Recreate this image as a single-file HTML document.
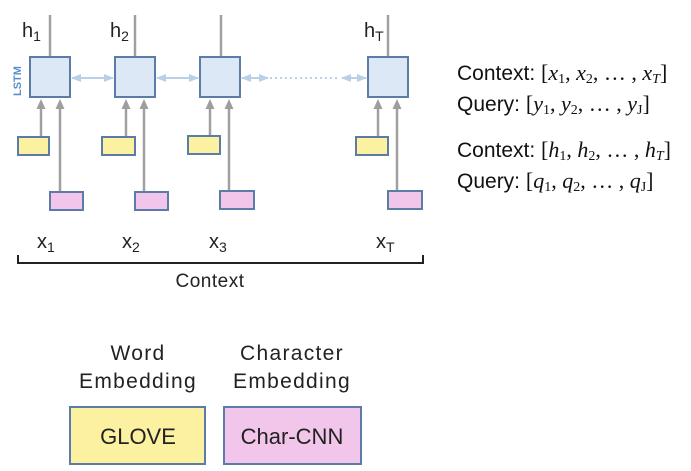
<!DOCTYPE html>
<html><head><style>body{margin:0;background:#fff}svg{display:block}</style></head><body>
<svg width="691" height="471" viewBox="0 0 691 471" xmlns="http://www.w3.org/2000/svg" font-family="Liberation Sans, sans-serif">
<defs>
<marker id="ga" markerUnits="userSpaceOnUse" markerWidth="10" markerHeight="10" refX="5" refY="5" orient="auto"><path d="M0,0.5 L10,5 L0,9.5 z" fill="#9e9e9e"/></marker>
<marker id="ba" markerUnits="userSpaceOnUse" markerWidth="10" markerHeight="10" refX="9" refY="5" orient="auto-start-reverse"><path d="M0,1 L10,5 L0,9 z" fill="#b8d0e8"/></marker>
</defs>
<g stroke="#a0a0a0" stroke-width="2.5">
<line x1="50" y1="15" x2="50" y2="57"/><line x1="135" y1="15" x2="135" y2="57"/><line x1="221" y1="15" x2="221" y2="57"/><line x1="388" y1="15" x2="388" y2="57"/>
<line x1="41" y1="137" x2="41" y2="104" marker-end="url(#ga)"/><line x1="60" y1="192" x2="60" y2="104" marker-end="url(#ga)"/>
<line x1="126" y1="137" x2="126" y2="104" marker-end="url(#ga)"/><line x1="144" y1="192" x2="144" y2="104" marker-end="url(#ga)"/>
<line x1="210" y1="136" x2="210" y2="104" marker-end="url(#ga)"/><line x1="229" y1="191" x2="229" y2="104" marker-end="url(#ga)"/>
<line x1="378" y1="137" x2="378" y2="104" marker-end="url(#ga)"/><line x1="397" y1="191" x2="397" y2="104" marker-end="url(#ga)"/>
</g>
<g stroke="#b8d0e8" stroke-width="2">
<line x1="72" y1="78" x2="113" y2="78" marker-start="url(#ba)" marker-end="url(#ba)"/>
<line x1="157" y1="78" x2="198" y2="78" marker-start="url(#ba)" marker-end="url(#ba)"/>
<line x1="242" y1="78" x2="268" y2="78" marker-start="url(#ba)" marker-end="url(#ba)"/>
<line x1="270" y1="78" x2="340" y2="78" stroke-dasharray="2,3"/>
<line x1="342" y1="78" x2="366" y2="78" marker-start="url(#ba)" marker-end="url(#ba)"/>
</g>
<g fill="#dce8f5" stroke="#5b7ca6" stroke-width="2">
<rect x="30" y="57" width="40" height="40"/><rect x="115" y="57" width="40" height="40"/><rect x="200" y="57" width="40" height="40"/><rect x="368" y="57" width="40" height="40"/>
</g>
<g fill="#fbf1a0" stroke="#5b7ca6" stroke-width="2">
<rect x="18" y="137" width="31" height="18"/><rect x="102" y="137" width="33" height="18"/><rect x="188" y="136" width="32" height="18"/><rect x="356" y="137" width="32" height="18"/>
</g>
<g fill="#f2c6ea" stroke="#5b7ca6" stroke-width="2">
<rect x="50" y="192" width="33" height="18"/><rect x="135" y="192" width="33" height="18"/><rect x="220" y="191" width="34" height="18"/><rect x="388" y="191" width="34" height="18"/>
</g>
<text x="21" y="96" font-size="11" fill="#5b8ec8" font-weight="bold" transform="rotate(-90 21 96)">LSTM</text>
<g font-size="20" fill="#222">
<text x="22" y="37">h<tspan font-size="14" dy="4">1</tspan></text>
<text x="110" y="37">h<tspan font-size="14" dy="4">2</tspan></text>
<text x="364" y="37">h<tspan font-size="14" dy="4">T</tspan></text>
<text x="37" y="248">x<tspan font-size="14" dy="4">1</tspan></text>
<text x="122" y="248">x<tspan font-size="14" dy="4">2</tspan></text>
<text x="209" y="248">x<tspan font-size="14" dy="4">3</tspan></text>
<text x="376" y="248">x<tspan font-size="14" dy="4">T</tspan></text>
</g>
<path d="M18,255 V263 H423 V255" fill="none" stroke="#222" stroke-width="2"/>
<text x="210" y="287" font-size="19" text-anchor="middle" fill="#222" letter-spacing="0.5">Context</text>
<g font-size="21" fill="#222" text-anchor="middle" letter-spacing="1.3">
<text x="138" y="360">Word</text><text x="138" y="388">Embedding</text>
<text x="292" y="360">Character</text><text x="292" y="388">Embedding</text>
</g>
<rect x="70" y="407" width="135" height="57" fill="#fbf1a0" stroke="#5b7ca6" stroke-width="2"/>
<rect x="224" y="407" width="137" height="57" fill="#f2c6ea" stroke="#5b7ca6" stroke-width="2"/>
<text x="138" y="444" font-size="22" text-anchor="middle" fill="#222">GLOVE</text>
<text x="292" y="444" font-size="22" text-anchor="middle" fill="#222">Char-CNN</text>
<g font-size="21" fill="#111">
<text x="457" y="80">Context: <tspan font-family="Liberation Serif, serif" font-size="22">[<tspan font-style="italic">x</tspan><tspan font-size="14" dy="3">1</tspan><tspan dy="-3">, </tspan><tspan font-style="italic">x</tspan><tspan font-size="14" dy="3">2</tspan><tspan dy="-3">, … , </tspan><tspan font-style="italic">x</tspan><tspan font-size="14" dy="3" font-style="italic">T</tspan><tspan dy="-3">]</tspan></tspan></text>
<text x="457" y="111">Query: <tspan font-family="Liberation Serif, serif" font-size="22">[<tspan font-style="italic">y</tspan><tspan font-size="14" dy="3">1</tspan><tspan dy="-3">, </tspan><tspan font-style="italic">y</tspan><tspan font-size="14" dy="3">2</tspan><tspan dy="-3">, … , </tspan><tspan font-style="italic">y</tspan><tspan font-size="14" dy="3">J</tspan><tspan dy="-3">]</tspan></tspan></text>
<text x="457" y="157">Context: <tspan font-family="Liberation Serif, serif" font-size="22">[<tspan font-style="italic">h</tspan><tspan font-size="14" dy="3">1</tspan><tspan dy="-3">, </tspan><tspan font-style="italic">h</tspan><tspan font-size="14" dy="3">2</tspan><tspan dy="-3">, … , </tspan><tspan font-style="italic">h</tspan><tspan font-size="14" dy="3" font-style="italic">T</tspan><tspan dy="-3">]</tspan></tspan></text>
<text x="457" y="188">Query: <tspan font-family="Liberation Serif, serif" font-size="22">[<tspan font-style="italic">q</tspan><tspan font-size="14" dy="3">1</tspan><tspan dy="-3">, </tspan><tspan font-style="italic">q</tspan><tspan font-size="14" dy="3">2</tspan><tspan dy="-3">, … , </tspan><tspan font-style="italic">q</tspan><tspan font-size="14" dy="3">J</tspan><tspan dy="-3">]</tspan></tspan></text>
</g>
</svg>
</body></html>
